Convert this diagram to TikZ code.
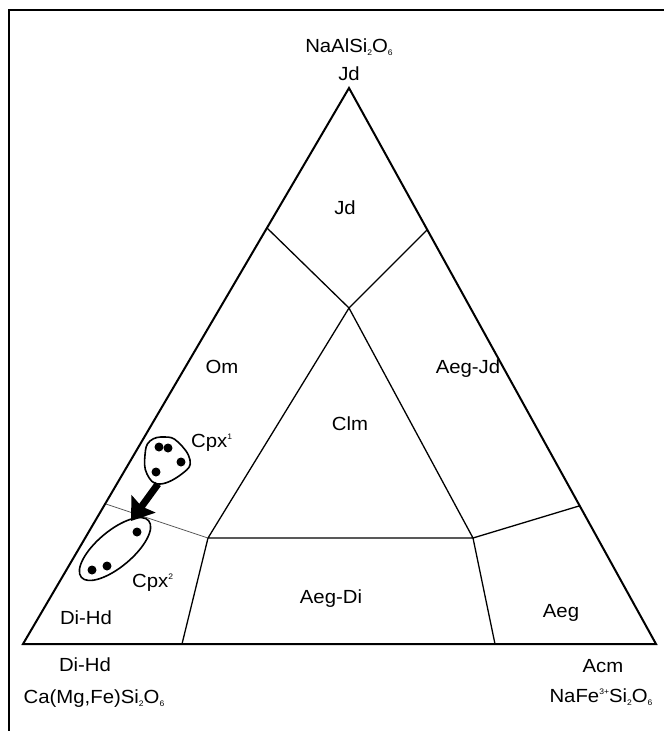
\documentclass[tikz,border=0pt]{standalone}
\usepackage{fontspec}
\setmainfont{Liberation Sans}[FakeStretch=1.07]
\usetikzlibrary{arrows.meta}
\newcommand\lsub[1]{\raisebox{-3.3pt}{\fontsize{8}{8}\selectfont #1}}
\newcommand\lsup[1]{\raisebox{7.3pt}{\fontsize{8}{8}\selectfont #1}}
\begin{document}
\begin{tikzpicture}[x=1pt,y=-1pt,
  lbl/.style={font=\fontsize{19}{20}\selectfont, anchor=base, inner sep=0pt},
  side/.style={line width=2pt, line join=miter},
  bound/.style={line width=1.3pt},
  thinb/.style={line width=0.8pt, black!65},
  dot/.style={circle, fill=black, minimum size=9pt, inner sep=0pt},
  blob/.style={line width=1.6pt},
  frame/.style={line width=1.7pt},
  bigarrow/.style={line width=7pt, -{Stealth[length=21pt,width=29pt,inset=3pt]}}]
\useasboundingbox (0,0) rectangle (664,731);
% frame
\coordinate (f1) at (664,10);
\coordinate (f2) at (9,10);
\coordinate (f3) at (9,731);
\draw[frame] (f1) -- (f2) -- (f3);
% triangle
\coordinate (A) at (349,88);
\coordinate (L) at (23,644);
\coordinate (R) at (656,644);
\draw[side] (L) -- (R) -- (A) -- cycle;
% field boundaries
\coordinate (jl) at (267,228);
\coordinate (jr) at (427,230);
\coordinate (m) at (349,308);
\coordinate (il) at (208,538);
\coordinate (ir) at (473,538);
\coordinate (ol) at (106,504);
\coordinate (or) at (579,506);
\coordinate (bl) at (182,644);
\coordinate (br) at (495,644);
\draw[bound] (jl) -- (m) -- (jr);
\draw[bound] (m) -- (il) -- (ir) -- cycle;
\draw[bound] (ir) -- (or);
\draw[bound] (il) -- (bl);
\draw[bound] (ir) -- (br);
\draw[thinb] (ol) -- (il);
% Cpx1 group
\draw[blob] plot[smooth cycle, tension=0.75] coordinates {(150,441) (165,437) (178,442) (190,460) (183,473) (160,484) (147,474) (145,455)};
\node[dot] (d1) at (159,447) {};
\node[dot] (d2) at (168,448) {};
\node[dot] (d3) at (181,462) {};
\node[dot] (d4) at (156,472) {};
% Cpx2 group
\coordinate (e2) at (115,549);
\draw[blob, shift={(e2)}, rotate=40] (0,0) ellipse (44 and 18);
\node[dot] (d5) at (137,532) {};
\node[dot] (d6) at (92,570) {};
\node[dot] (d7) at (107,566) {};
% arrow
\coordinate (a1) at (158,484);
\coordinate (a2) at (131,521);
\draw[bigarrow] (a1) -- (a2);
% labels
\node[lbl] (tf) at (349,52) {NaAlSi\lsub{2}O\lsub{6}};
\node[lbl] (tj) at (349,80) {Jd};
\node[lbl] (rJd) at (345,214) {Jd};
\node[lbl] (rOm) at (222,373) {Om};
\node[lbl] (rAJ) at (468,373) {Aeg-Jd};
\node[lbl] (rClm) at (350,430) {Clm};
\node[lbl, anchor=base west] (c1) at (191,447) {Cpx\lsup{1}};
\node[lbl, anchor=base west] (c2) at (132,587) {Cpx\lsup{2}};
\node[lbl] (rDH) at (86,624) {Di-Hd};
\node[lbl] (rAD) at (331,603) {Aeg-Di};
\node[lbl] (rAeg) at (561,617) {Aeg};
\node[lbl] (bDH) at (85,671) {Di-Hd};
\node[lbl] (bCa) at (94,703) {Ca(Mg,Fe)Si\lsub{2}O\lsub{6}};
\node[lbl] (bAcm) at (603,672) {Acm};
\node[lbl] (bNa) at (601,702) {NaFe\lsup{3+}Si\lsub{2}O\lsub{6}};
\end{tikzpicture}
\end{document}
